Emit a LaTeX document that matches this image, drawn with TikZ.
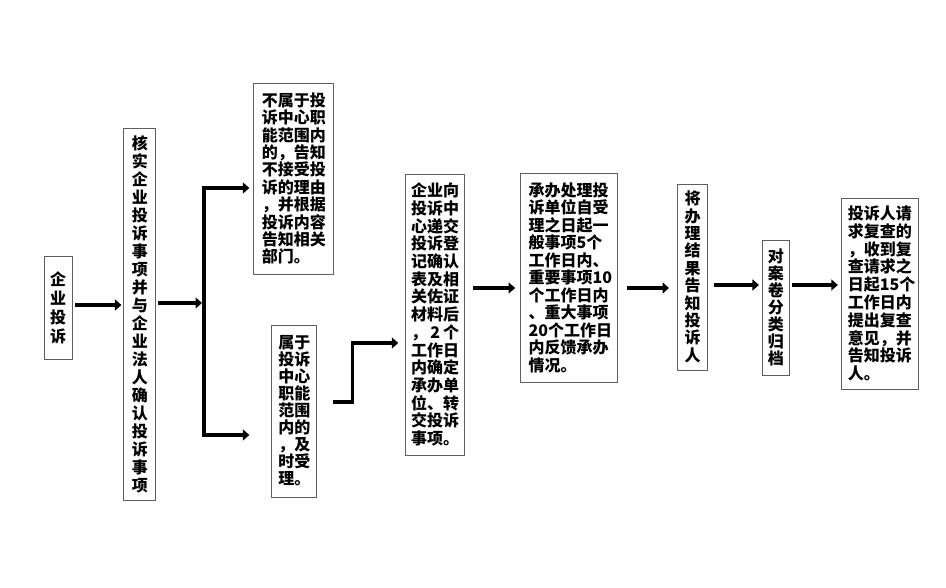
\documentclass[tikz,border=0pt]{standalone}
\usepackage{fontspec}
\newfontfamily\cjk{Noto Sans CJK SC}
\usetikzlibrary{arrows.meta,positioning}
\definecolor{boxgray}{RGB}{95,95,95}
\tikzset{
  stage/.style={draw=boxgray,line width=0.9pt,inner sep=0pt,align=left,font=\cjk\bfseries\fontsize{16}{#1}\selectfont},
  stage/.default=17.5,
  arrow/.style={-{Triangle[length=6.5pt,width=11pt]},line width=3.2pt,shorten <=3pt,shorten >=3pt}
}

\begin{document}
\begin{tikzpicture}
\useasboundingbox (0,0) rectangle (946pt,-588pt);
\node[stage=19,minimum width=28pt,minimum height=103pt,text width=16pt] (start) at (58pt,-307.5pt) {企\\业\\投\\诉};
\node[stage=18,minimum width=32pt,minimum height=372pt,text width=16pt,right=51pt of start,yshift=-6.5pt] (check) {核\\实\\企\\业\\投\\诉\\事\\项\\并\\与\\企\\业\\法\\人\\确\\认\\投\\诉\\事\\项};
\node[stage=17.4,minimum width=80pt,minimum height=191pt,text width=64pt,right=97pt of check,yshift=135.5pt] (reject) {不属于投\\诉中心职\\能范围内\\的，告知\\不接受投\\诉的理由\\，并根据\\投诉内容\\告知相关\\部门。};
\node[stage=17,minimum width=45pt,minimum height=172pt,text width=32pt,right=115pt of check,yshift=-97pt] (accept) {属于\\投诉\\中心\\职能\\范围\\内的\\，及\\时受\\理。};
\node[stage=17.7,minimum width=59pt,minimum height=281pt,text width=48pt,right=88pt of accept,yshift=96.5pt] (register) {企业向\\投诉中\\心递交\\投诉登\\记确认\\表及相\\关佐证\\材料后\\，\makebox[16pt]{2}个\\工作日\\内确定\\承办单\\位、转\\交投诉\\事项。};
\node[stage=17.5,minimum width=97pt,minimum height=209pt,text width=81pt,right=55pt of register,yshift=37pt] (handle) {承办处理投\\诉单位自受\\理之日起一\\般事项5个\\工作日内、\\重要事项10\\个工作日内\\、重大事项\\20个工作日\\内反馈承办\\情况。};
\node[stage=17.4,minimum width=30pt,minimum height=186pt,text width=16pt,right=59pt of handle,yshift=0.5pt] (notify) {将\\办\\理\\结\\果\\告\\知\\投\\诉\\人};
\node[stage=17,minimum width=27pt,minimum height=135pt,text width=16pt,right=54pt of notify,yshift=-30.5pt] (archive) {对\\案\\卷\\分\\类\\归\\档};
\node[stage=17.8,minimum width=77pt,minimum height=191pt,text width=64pt,right=51pt of archive,yshift=14pt] (review) {投诉人请\\求复查的\\，收到复\\查请求之\\日起15个\\工作日内\\提出复查\\意见，并\\告知投诉\\人。};
\coordinate (forkup) at (204pt,-188pt);
\coordinate (forkdown) at (204pt,-435pt);
\draw[arrow,shorten >=2pt] (start.east |- 0,-305pt) -- (check.west |- 0,-305pt);
\draw[arrow,shorten <=2pt,shorten >=2pt] (check.east |- 0,-303pt) -- (forkup |- 0,-303pt);
\draw[arrow,shorten <=0pt,shorten >=4pt] (forkdown) -- (forkup) -- (reject.west |- forkup);
\draw[arrow,shorten <=0pt,shorten >=22pt] (forkup) -- (forkdown) -- (accept.west |- forkdown);
\draw[arrow,shorten <=16pt,shorten >=7pt] (accept.east |- 0,-402pt) -- ++(35pt,0) |- (register.west |- 0,-343pt);
\draw[arrow,shorten <=8pt,shorten >=5pt] (register.east |- 0,-288pt) -- (handle.west |- 0,-288pt);
\draw[arrow,shorten <=9pt,shorten >=8pt] (handle.east |- 0,-288pt) -- (notify.west |- 0,-288pt);
\draw[arrow,shorten <=6pt,shorten >=3pt] (notify.east |- 0,-285pt) -- (archive.west |- 0,-285pt);
\draw[arrow,shorten <=2pt,shorten >=3pt] (archive.east |- 0,-285pt) -- (review.west |- 0,-285pt);
\end{tikzpicture}
\end{document}
